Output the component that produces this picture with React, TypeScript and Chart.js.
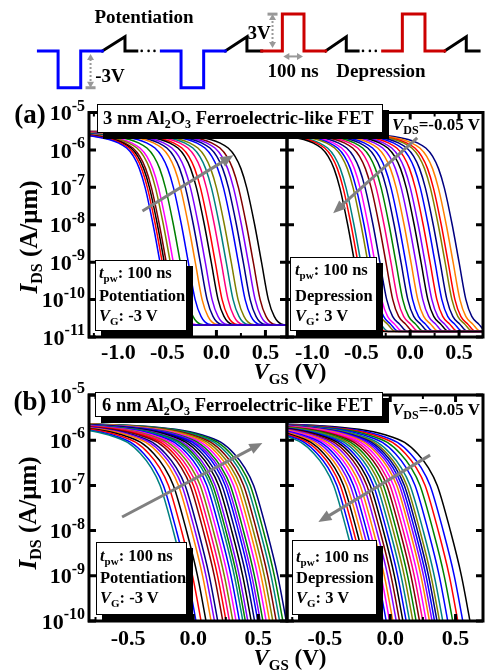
import React, { useEffect, useRef } from 'react';
import { Chart, registerables } from 'chart.js';
Chart.register(...registerables);

const FONT = '"Liberation Serif", "Times New Roman", Times, serif';
const W = 487;
const H = 672;

const PALETTE: Record<string, string> = {
  k: '#000000', r: '#FF0000', b: '#0000FF', m: '#FF00FF', o: '#808000', n: '#000080',
  v: '#8000FF', w: '#800000', t: '#008080', g: '#008000', or: '#FF8000', p: '#FF0080',
};

// ---------------- data ----------------
// curve shape for panel (a): [V offset from the 1e-8 A/um point, log10 I]
const TEMPLATE_A: number[][] = [
  [-1.9, -5.5], [-1.0, -5.55], [-0.6, -5.64], [-0.45, -5.72], [-0.35, -5.82], [-0.27, -5.95],
  [-0.2, -6.17], [-0.14, -6.5], [-0.08, -7.02], [0, -8], [0.07, -9], [0.14, -10], [0.2, -10.45], [0.27, -10.65],
];
const FLOOR_A_POT = -10.68;
const FLOOR_A_DEP = -10.85;
// V at which I = 1e-8 for each curve (left to right)
const A_POT_SHIFT = [-0.646, -0.623, -0.602, -0.582, -0.541, -0.51, -0.439, -0.357, -0.286, -0.235, -0.184,
  -0.123, -0.082, -0.021, 0.03, 0.081, 0.153, 0.204, 0.255, 0.306, 0.39];
const A_POT_COLOR = ['b', 'r', 'k', 'w', 'o', 'm', 'g', 'b', 'or', 'n', 'v', 'k', 'r', 'p', 't', 'o', 'b', 'n', 'v', 'w', 'k'];
const A_DEP_SHIFT = [-0.639, -0.605, -0.575, -0.503, -0.472, -0.431, -0.38, -0.318, -0.267, -0.216, -0.164,
  -0.115, -0.062, -0.011, 0.041, 0.082, 0.133, 0.184, 0.236, 0.287, 0.318, 0.369, 0.43];
const A_DEP_COLOR = ['k', 'r', 't', 'o', 'b', 'm', 'n', 'w', 'p', 'g', 'n', 'b', 'or', 'v', 'k', 'v', 'r', 'b', 'n', 'o', 'r', 'or', 'n'];

// curve shape for panel (b)
const TEMPLATE_B: number[][] = [
  [-1.6, -5.62], [-1.0, -5.68], [-0.7, -5.76], [-0.5, -5.88], [-0.35, -6.05], [-0.25, -6.3],
  [-0.17, -6.6], [-0.1, -7.0], [0, -8], [0.085, -9], [0.15, -10], [0.21, -11],
];
const B_POT_SHIFT = [-0.154, -0.129, -0.09, -0.052, -0.013, 0.013, 0.038, 0.077, 0.102, 0.128, 0.154, 0.179,
  0.205, 0.231, 0.25, 0.269, 0.295, 0.321, 0.346, 0.365, 0.385, 0.41, 0.436, 0.461, 0.487, 0.513, 0.538, 0.564];
const B_POT_COLOR = ['t', 'b', 'r', 'k', 'or', 'v', 'n', 'w', 'r', 'p', 'o', 'm', 'b', 't', 'g', 'v', 'k', 'n', 'b',
  'v', 'g', 'm', 'or', 'o', 'w', 't', 'g', 'n'];
const B_DEP_SHIFT = [-0.333, -0.308, -0.282, -0.257, -0.231, -0.206, -0.181, -0.155, -0.13, -0.104, -0.079, -0.053,
  -0.028, -0.002, 0.023, 0.048, 0.074, 0.099, 0.125, 0.15, 0.17, 0.189, 0.208, 0.227, 0.252, 0.29, 0.328, 0.367, 0.405, 0.46];
const B_DEP_COLOR = ['t', 'b', 'r', 'k', 'or', 'v', 'b', 'm', 'or', 'v', 'w', 'k', 'b', 't', 'o', 'g', 'w', 'p', 'm',
  'or', 'v', 'b', 'n', 'o', 't', 'b', 'g', 'r', 'b', 'k'];

const X_TICKS_A = [-1.0, -0.5, 0.0, 0.5];
const X_TICKS_B = [-0.5, 0.0, 0.5];
const Y_EXP_A = [-5, -6, -7, -8, -9, -10, -11];
const Y_EXP_B = [-5, -6, -7, -8, -9, -10];

// gray trend arrows [tail, head] as [V, log10 I]
const ARROW_A_POT = [[-0.755, -7.63], [0.173, -6.14]];
const ARROW_A_DEP = [[0.072, -5.68], [-0.788, -7.69]];
const ARROW_B_POT = [[-0.546, -7.7], [0.531, -6.06]];
const ARROW_B_DEP = [[0.305, -6.33], [-0.55, -7.81]];

// pulse schematic: [time, voltage]
const WAVE_BLUE = [
  [[35, 0], [55, 0], [55, -3], [78, -3], [78, 0], [100, 0]],
  [[160, 0], [180, 0], [180, -3], [203, -3], [203, 0], [225, 0]],
];
const WAVE_BLACK = [
  [[100, 0], [123, 1.15], [123, 0], [135, 0]],
  [[225, 0], [247, 1.15], [247, 0], [262, 0]],
  [[327, 0], [348, 1.15], [348, 0], [360, 0]],
  [[448, 0], [470, 1.15], [470, 0], [483, 0]],
];
const WAVE_RED = [
  [[262, 0], [283, 0], [283, 3], [305, 3], [305, 0], [327, 0]],
  [[385, 0], [405, 0], [405, 3], [428, 3], [428, 0], [448, 0]],
];
const WAVE_DOTS = [[140, 0], [147, 0], [153, 0], [365, 0], [372, 0], [378, 0]];

// ---------------- helpers ----------------
function buildCurve(template: number[][], shift: number, floor: number, xMax: number) {
  const pts: { x: number; y: number }[] = [];
  let lastDv = 0;
  for (const [dv, lg] of template) {
    if (lg < floor) break;
    pts.push({ x: shift + dv, y: Math.pow(10, lg) });
    lastDv = dv;
  }
  if (floor > -12) {
    pts.push({ x: shift + lastDv + 0.08, y: Math.pow(10, floor) });
    pts.push({ x: xMax + 0.3, y: Math.pow(10, floor) });
  }
  return pts;
}

function arrowHead(ctx: CanvasRenderingContext2D, x1: number, y1: number, x2: number, y2: number, len: number, wid: number) {
  const a = Math.atan2(y2 - y1, x2 - x1);
  const bx = x2 - len * Math.cos(a);
  const by = y2 - len * Math.sin(a);
  ctx.beginPath();
  ctx.moveTo(x2, y2);
  ctx.lineTo(bx + (wid / 2) * Math.sin(a), by - (wid / 2) * Math.cos(a));
  ctx.lineTo(bx - (wid / 2) * Math.sin(a), by + (wid / 2) * Math.cos(a));
  ctx.closePath();
  ctx.fill();
}

type Spec = {
  area: { l: number; t: number; r: number; b: number };
  xMin: number; xMax: number;
  exps: number[];
  xTicks: number[];
  template: number[][];
  shifts: number[];
  colors: string[];
  floor: number;
  arrow: number[][];
  yLabels: boolean;
  labelDy: number;
};

function makeConfig(spec: Spec): any {
  const { area } = spec;
  const axesPlugin = {
    id: 'frameAxes',
    afterDatasetsDraw(chart: any) {
      const ctx: CanvasRenderingContext2D = chart.ctx;
      const { left, top, right, bottom } = chart.chartArea;
      const xs = chart.scales.x;
      const ys = chart.scales.y;
      ctx.save();
      // arrow
      const [t0, h0] = spec.arrow;
      const tx = xs.getPixelForValue(t0[0]);
      const ty = ys.getPixelForValue(Math.pow(10, t0[1]));
      const hx = xs.getPixelForValue(h0[0]);
      const hy = ys.getPixelForValue(Math.pow(10, h0[1]));
      const ang = Math.atan2(hy - ty, hx - tx);
      ctx.strokeStyle = '#808080';
      ctx.fillStyle = '#808080';
      ctx.lineWidth = 3;
      ctx.beginPath();
      ctx.moveTo(tx, ty);
      ctx.lineTo(hx - 10 * Math.cos(ang), hy - 10 * Math.sin(ang));
      ctx.stroke();
      arrowHead(ctx, tx, ty, hx, hy, 13, 11);
      // frame
      ctx.strokeStyle = '#000';
      ctx.fillStyle = '#000';
      ctx.lineWidth = 3;
      ctx.strokeRect(left, top, right - left, bottom - top);
      // y ticks
      ctx.beginPath();
      for (const e of spec.exps) {
        const py = ys.getPixelForValue(Math.pow(10, e));
        ctx.moveTo(left, py); ctx.lineTo(left + 7, py);
        ctx.moveTo(right, py); ctx.lineTo(right - 7, py);
        if (spec.yLabels) { ctx.moveTo(left, py); ctx.lineTo(left - 1, py); }
      }
      ctx.stroke();
      // x ticks
      ctx.beginPath();
      for (const v of spec.xTicks) {
        const px = xs.getPixelForValue(v);
        ctx.moveTo(px, bottom); ctx.lineTo(px, bottom - 7);
        ctx.moveTo(px, top); ctx.lineTo(px, top + 7);
      }
      ctx.stroke();
      ctx.lineWidth = 2;
      ctx.beginPath();
      for (const v of spec.xTicks) {
        for (const m of [v - 0.25, v + 0.25]) {
          if (m <= spec.xMin + 0.02 || m >= spec.xMax - 0.02) continue;
          const px = xs.getPixelForValue(m);
          ctx.moveTo(px, bottom); ctx.lineTo(px, bottom - 4);
          ctx.moveTo(px, top); ctx.lineTo(px, top + 4);
        }
      }
      ctx.stroke();
      // x tick labels
      ctx.font = `bold 22px ${FONT}`;
      ctx.textAlign = 'center';
      ctx.textBaseline = 'middle';
      for (const v of spec.xTicks) {
        ctx.fillText(v.toFixed(1), xs.getPixelForValue(v), bottom + spec.labelDy);
      }
      // y tick labels
      if (spec.yLabels) {
        ctx.textAlign = 'right';
        for (const e of spec.exps) {
          const py = ys.getPixelForValue(Math.pow(10, e));
          const sup = '-' + Math.abs(e);
          ctx.font = `bold 16px ${FONT}`;
          const sw = ctx.measureText(sup).width;
          ctx.fillText(sup, left - 4, py - 6);
          ctx.font = `bold 22px ${FONT}`;
          ctx.fillText('10', left - 4 - sw, py + 2);
        }
      }
      ctx.restore();
    },
  };
  return {
    type: 'line',
    data: {
      datasets: spec.shifts.map((s, i) => ({
        data: buildCurve(spec.template, s, spec.floor, spec.xMax),
        borderColor: PALETTE[spec.colors[i]],
        borderWidth: 1.5,
        pointRadius: 0,
        fill: false,
        cubicInterpolationMode: 'monotone',
      })),
    },
    options: {
      animation: false,
      responsive: false,
      events: [],
      layout: { padding: { left: area.l, top: area.t, right: W - area.r, bottom: H - area.b } },
      scales: {
        x: { type: 'linear', min: spec.xMin, max: spec.xMax, display: false },
        y: { type: 'logarithmic', min: Math.pow(10, spec.exps[spec.exps.length - 1]), max: Math.pow(10, spec.exps[0]), display: false },
      },
      plugins: { legend: { display: false }, tooltip: { enabled: false } },
    },
    plugins: [axesPlugin],
  };
}

const SPECS: Spec[] = [
  { area: { l: 89, t: 112.5, r: 287, b: 337 }, xMin: -1.3, xMax: 0.72, exps: Y_EXP_A, xTicks: X_TICKS_A,
    template: TEMPLATE_A, shifts: A_POT_SHIFT, colors: A_POT_COLOR, floor: FLOOR_A_POT, arrow: ARROW_A_POT, yLabels: true, labelDy: 16 },
  { area: { l: 287, t: 112.5, r: 483, b: 337 }, xMin: -1.26, xMax: 0.745, exps: Y_EXP_A, xTicks: X_TICKS_A,
    template: TEMPLATE_A, shifts: A_DEP_SHIFT, colors: A_DEP_COLOR, floor: FLOOR_A_DEP, arrow: ARROW_A_DEP, yLabels: false, labelDy: 16 },
  { area: { l: 89, t: 395, r: 287, b: 621 }, xMin: -0.8, xMax: 0.72, exps: Y_EXP_B, xTicks: X_TICKS_B,
    template: TEMPLATE_B, shifts: B_POT_SHIFT, colors: B_POT_COLOR, floor: -99, arrow: ARROW_B_POT, yLabels: true, labelDy: 18 },
  { area: { l: 287, t: 395, r: 483, b: 621 }, xMin: -0.79, xMax: 0.71, exps: Y_EXP_B, xTicks: X_TICKS_B,
    template: TEMPLATE_B, shifts: B_DEP_SHIFT, colors: B_DEP_COLOR, floor: -99, arrow: ARROW_B_DEP, yLabels: false, labelDy: 18 },
];

function PlotCanvas({ spec }: { spec: Spec }) {
  const ref = useRef<HTMLCanvasElement>(null);
  useEffect(() => {
    const chart = new Chart(ref.current as HTMLCanvasElement, makeConfig(spec));
    return () => chart.destroy();
  }, []);
  return <canvas ref={ref} width={W} height={H} style={{ position: 'absolute', left: 0, top: 0, width: W, height: H }} />;
}

function SchematicCanvas() {
  const ref = useRef<HTMLCanvasElement>(null);
  useEffect(() => {
    const toPts = (seg: number[][]) => seg.map(([x, y]) => ({ x, y }));
    const lineDs = (seg: number[][], color: string) => ({
      data: toPts(seg), borderColor: color, borderWidth: 3, pointRadius: 0, fill: false,
      tension: 0, borderJoinStyle: 'miter', borderCapStyle: 'square',
    });
    const annot = {
      id: 'annot',
      afterDatasetsDraw(chart: any) {
        const ctx: CanvasRenderingContext2D = chart.ctx;
        const xs = chart.scales.x;
        const ys = chart.scales.y;
        const X = (v: number) => xs.getPixelForValue(v);
        const Y = (v: number) => ys.getPixelForValue(v);
        ctx.save();
        ctx.strokeStyle = '#999';
        ctx.fillStyle = '#999';
        const vArrow = (x: number, v1: number, v2: number, barAt: number) => {
          const px = X(x);
          const y1 = Y(v1) + (Y(v2) > Y(v1) ? 3 : -3);
          const y2 = Y(v2);
          ctx.lineWidth = 2;
          ctx.setLineDash([2, 2]);
          ctx.beginPath();
          const dir = y2 > y1 ? 1 : -1;
          ctx.moveTo(px, y1 + dir * 5);
          ctx.lineTo(px, y2 - dir * 5);
          ctx.stroke();
          ctx.setLineDash([]);
          arrowHead(ctx, px, y2, px, y1, 6, 7);
          arrowHead(ctx, px, y1, px, y2, 6, 7);
          const by = Y(barAt);
          ctx.fillRect(px - 5, by - 1.5, 10, 3);
        };
        vArrow(88, 0, -3, -3);
        vArrow(273, 0, 3, 3);
        const y = Y(-0.45);
        const xa = X(284);
        const xb = X(304);
        ctx.lineWidth = 2;
        ctx.beginPath();
        ctx.moveTo(xa + 4, y); ctx.lineTo(xb - 4, y);
        ctx.stroke();
        arrowHead(ctx, xb, y, xa, y, 6, 7);
        arrowHead(ctx, xa, y, xb, y, 6, 7);
        ctx.restore();
      },
    };
    const chart = new Chart(ref.current as HTMLCanvasElement, {
      type: 'line',
      data: {
        datasets: [
          ...WAVE_BLUE.map((s) => lineDs(s, '#0000FF')),
          ...WAVE_RED.map((s) => lineDs(s, '#CC0000')),
          ...WAVE_BLACK.map((s) => lineDs(s, '#000000')),
          { data: toPts(WAVE_DOTS), showLine: false, pointRadius: 1.3, pointBackgroundColor: '#000', pointBorderWidth: 0 },
        ] as any,
      },
      options: {
        animation: false,
        responsive: false,
        events: [],
        layout: { padding: 0 },
        scales: {
          x: { type: 'linear', min: 0, max: 487, display: false },
          y: { type: 'linear', min: -3.675, max: 3.825, display: false },
        },
        plugins: { legend: { display: false }, tooltip: { enabled: false } },
      } as any,
      plugins: [annot],
    });
    return () => chart.destroy();
  }, []);
  return <canvas ref={ref} width={W} height={100} style={{ position: 'absolute', left: 0, top: 0, width: W, height: 100 }} />;
}

const Sub = ({ children, size = 12, dy = 4 }: any) => (
  <span style={{ fontSize: size, position: 'relative', top: dy }}>{children}</span>
);

const T = ({ x, y, size = 16.5, center = false, children }: any) => (
  <div style={{
    position: 'absolute', left: x, top: y,
    transform: center ? 'translate(-50%,-50%)' : 'translateY(-50%)',
    fontFamily: FONT, fontWeight: 'bold', fontSize: size, lineHeight: 1,
    whiteSpace: 'nowrap', color: '#000',
  }}>{children}</div>
);

const Box = ({ l, t, r, b }: any) => (
  <div style={{
    position: 'absolute', left: l, top: t, width: r - l, height: b - t, boxSizing: 'border-box',
    border: '1px solid #000', background: '#fff', boxShadow: '6px 6px 0 #000',
  }} />
);

function LowerBox({ l, t, r, b, tx, ys, mode, v }: any) {
  return (
    <>
      <Box l={l} t={t} r={r} b={b} />
      <T x={tx} y={ys[0]}><i>t</i><Sub size={11} dy={4}>pw</Sub>: 100 ns</T>
      <T x={tx} y={ys[1]}>{mode}</T>
      <T x={tx} y={ys[2]}><i>V</i><Sub size={11} dy={4}>G</Sub>: {v}</T>
    </>
  );
}

export default function App() {
  return (
    <div style={{ position: 'absolute', left: 0, top: 0, width: W, height: H, background: '#fff', overflow: 'hidden' }}>
      <SchematicCanvas />
      {SPECS.map((s, i) => <PlotCanvas key={i} spec={s} />)}

      {/* schematic labels */}
      <T x={144} y={16} size={19} center>Potentiation</T>
      <T x={110} y={75} size={19} center>-3V</T>
      <T x={259} y={32} size={19} center>3V</T>
      <T x={293} y={70} size={19} center>100 ns</T>
      <T x={381} y={70} size={19} center>Depression</T>

      {/* panel (a) */}
      <T x={30} y={114} size={27} center>(a)</T>
      <Box l={97} t={104} r={383} b={133} />
      <T x={103} y={118} size={18.5}>3 nm Al<Sub size={12} dy={4}>2</Sub>O<Sub size={12} dy={4}>3</Sub> Ferroelectric-like FET</T>
      <T x={392} y={124} size={17}><i>V</i><Sub size={12} dy={4}>DS</Sub>=-0.05 V</T>
      <LowerBox l={95} t={260} r={187} b={331} tx={99} ys={[273, 296, 316]} mode="Potentiation" v="-3 V" />
      <LowerBox l={290} t={257} r={377} b={331} tx={295} ys={[270, 296, 316]} mode="Depression" v="3 V" />
      <div style={{ position: 'absolute', left: 28, top: 237, transform: 'translate(-50%,-50%) rotate(-90deg)', fontFamily: FONT, fontWeight: 'bold', fontSize: 25, lineHeight: 1, whiteSpace: 'nowrap' }}>
        <i>I</i><Sub size={16} dy={5}>DS</Sub> (A/μm)
      </div>
      <T x={290} y={371} size={23} center><i>V</i><Sub size={15} dy={5}>GS</Sub> (V)</T>

      {/* panel (b) */}
      <T x={30} y={401} size={27} center>(b)</T>
      <Box l={95} t={392} r={383} b={417} />
      <T x={102} y={405} size={18.5}>6 nm Al<Sub size={12} dy={4}>2</Sub>O<Sub size={12} dy={4}>3</Sub> Ferroelectric-like FET</T>
      <T x={392} y={409} size={17}><i>V</i><Sub size={12} dy={4}>DS</Sub>=-0.05 V</T>
      <LowerBox l={96} t={542} r={187} b={615} tx={100} ys={[556, 578, 598]} mode="Potentiation" v="-3 V" />
      <LowerBox l={292} t={540} r={377} b={615} tx={296} ys={[557, 578, 598]} mode="Depression" v="3 V" />
      <div style={{ position: 'absolute', left: 27, top: 513, transform: 'translate(-50%,-50%) rotate(-90deg)', fontFamily: FONT, fontWeight: 'bold', fontSize: 25, lineHeight: 1, whiteSpace: 'nowrap' }}>
        <i>I</i><Sub size={16} dy={5}>DS</Sub> (A/μm)
      </div>
      <T x={290} y={657} size={23} center><i>V</i><Sub size={15} dy={5}>GS</Sub> (V)</T>
    </div>
  );
}
